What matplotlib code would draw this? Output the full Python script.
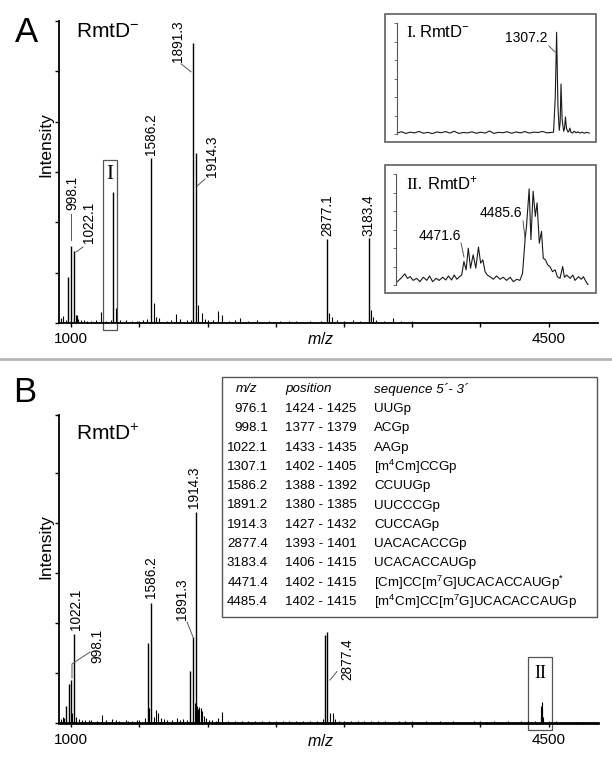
import matplotlib
matplotlib.use('Agg')
import matplotlib.pyplot as plt
from matplotlib.patches import Rectangle
from matplotlib.lines import Line2D

plt.rcParams['font.family'] = ['Liberation Sans', 'DejaVu Sans']
plt.rcParams['mathtext.fontset'] = 'custom'
plt.rcParams['mathtext.rm'] = 'Liberation Sans'
plt.rcParams['mathtext.it'] = 'Liberation Sans:italic'
plt.rcParams['mathtext.bf'] = 'Liberation Sans:bold'

# ---------------- data ----------------
# Panel A (RmtD-) stick spectrum, intensity in axis-tick units
a_major_mz = [976.1, 998.1, 1022.1, 1307.2, 1586.2, 1891.3, 1914.3, 2877.1, 3183.4]
a_major_int = [0.91, 1.53, 1.43, 2.60, 3.28, 5.57, 3.38, 1.67, 1.69]
a_minor_mz = [925, 944, 963, 1037, 1042, 1053, 1070, 1095, 1120, 1150, 1185, 1220, 1260,
              1290, 1330, 1360, 1403, 1450, 1480, 1500, 1530, 1555, 1608, 1620, 1647,
              1700, 1730, 1769, 1799, 1850, 1880, 1933, 1957, 1980, 2000, 2040, 2079,
              2104, 2160, 2200, 2238, 2300, 2360, 2450, 2531, 2600, 2650, 2750, 2830,
              2892, 2910, 2946, 3000, 3064, 3120, 3198, 3212, 3234, 3290, 3361, 3420,
              3500, 3600, 3700, 3800, 3900, 4000, 4100, 4200, 4300, 4400, 4500, 4600,
              4700, 4800]
a_minor_int = [0.10, 0.13, 0.06, 0.15, 0.16, 0.08, 0.05, 0.05, 0.04, 0.04, 0.05, 0.22, 0.04,
               0.06, 0.30, 0.05, 0.05, 0.04, 0.03, 0.04, 0.05, 0.08, 0.40, 0.12, 0.10,
               0.04, 0.05, 0.17, 0.07, 0.05, 0.06, 0.35, 0.20, 0.08, 0.06, 0.05, 0.24,
               0.15, 0.04, 0.05, 0.10, 0.03, 0.05, 0.03, 0.04, 0.03, 0.03, 0.03, 0.04,
               0.20, 0.12, 0.06, 0.03, 0.05, 0.03, 0.25, 0.12, 0.05, 0.03, 0.10, 0.03,
               0.03, 0.02, 0.02, 0.02, 0.02, 0.02, 0.02, 0.02, 0.02, 0.02, 0.02, 0.02,
               0.02, 0.02]

# Panel B (RmtD+) stick spectrum
b_major_mz = [966, 985, 998.1, 1022.1, 1566, 1586.2, 1872, 1891.3, 1914.3, 2860, 2877.4]
b_major_int = [0.34, 0.79, 0.86, 1.78, 1.60, 2.40, 1.04, 1.72, 4.22, 1.76, 1.83]
b_minor_mz = [925, 940, 950, 1010, 1040, 1060, 1080, 1100, 1130, 1150, 1190, 1225, 1260,
              1300, 1330, 1350, 1400, 1420, 1450, 1480, 1500, 1540, 1575, 1605, 1623,
              1640, 1660, 1680, 1700, 1740, 1774, 1800, 1820, 1850, 1905, 1922, 1930,
              1940, 1950, 1960, 1975, 1990, 2010, 2030, 2060, 2080, 2104, 2150, 2200,
              2250, 2300, 2350, 2400, 2450, 2500, 2550, 2600, 2650, 2700, 2750, 2800,
              2845, 2897, 2917, 2935, 2960, 3000, 3050, 3100, 3150, 3200, 3250, 3300,
              3350, 3400, 3450, 3500, 3550, 3600, 3650, 3700, 3750, 3800, 3850, 3900,
              3950, 4000, 4050, 4100, 4150, 4200, 4250, 4300, 4350, 4400, 4440, 4446,
              4450, 4454, 4460, 4500, 4550, 4600, 4650, 4700, 4750, 4800]
b_minor_int = [0.08, 0.12, 0.10, 0.20, 0.12, 0.08, 0.07, 0.06, 0.06, 0.07, 0.05, 0.16, 0.06,
               0.08, 0.06, 0.05, 0.06, 0.05, 0.05, 0.06, 0.06, 0.10, 0.30, 0.12, 0.26,
               0.20, 0.10, 0.08, 0.06, 0.06, 0.11, 0.07, 0.08, 0.06, 0.40, 0.34, 0.28,
               0.32, 0.30, 0.25, 0.15, 0.10, 0.07, 0.06, 0.05, 0.10, 0.22, 0.05, 0.05,
               0.04, 0.04, 0.05, 0.05, 0.04, 0.04, 0.05, 0.04, 0.04, 0.04, 0.05, 0.05,
               0.08, 0.20, 0.20, 0.08, 0.05, 0.05, 0.04, 0.04, 0.04, 0.05, 0.04, 0.04,
               0.03, 0.04, 0.04, 0.04, 0.03, 0.04, 0.03, 0.04, 0.03, 0.04, 0.03, 0.03,
               0.04, 0.04, 0.03, 0.04, 0.03, 0.04, 0.03, 0.04, 0.04, 0.05, 0.15, 0.35,
               0.42, 0.30, 0.12, 0.05, 0.04, 0.03, 0.03, 0.03, 0.03, 0.03]

x_ticks = [1000, 1500, 2000, 2500, 3000, 3500, 4000, 4500]
x_ticklabels = ['1000', '', '', '', '', '', '', '4500']

# Inset I (RmtD-, region around 1307) profile
i1_mz = [1271.0, 1272.0, 1273.0, 1274.0, 1275.0, 1276.0, 1277.0, 1278.0, 1279.0, 1280.0,
         1281.0, 1282.0, 1283.0, 1284.0, 1285.0, 1286.0, 1287.0, 1288.0, 1289.0, 1290.0,
         1291.0, 1292.0, 1293.0, 1294.0, 1295.0, 1296.0, 1297.0, 1298.0, 1299.0, 1300.0,
         1301.0, 1302.0, 1303.0, 1304.0, 1305.0, 1305.8, 1306.5, 1306.9, 1307.2, 1307.5,
         1307.8, 1308.0, 1308.2, 1308.45, 1308.8, 1309.0, 1309.2, 1309.45, 1309.8, 1310.0,
         1310.2, 1310.45, 1310.8, 1311.2, 1311.6, 1312.0, 1312.5, 1313.0, 1313.5, 1314.0,
         1314.6]
i1_int = [0.05, 0.12, 0.03, 0.10, 0.06, 0.14, 0.04, 0.09, 0.02, 0.11,
          0.07, 0.13, 0.05, 0.15, 0.03, 0.08, 0.06, 0.12, 0.04, 0.10,
          0.05, 0.16, 0.03, 0.09, 0.07, 0.12, 0.04, 0.11, 0.06, 0.13,
          0.05, 0.10, 0.08, 0.14, 0.06, 0.08, 0.10, 2.00, 5.50, 1.50,
          0.20, 0.60, 2.70, 0.80, 0.15, 0.30, 0.92, 0.30, 0.10, 0.15,
          0.32, 0.10, 0.05, 0.15, 0.06, 0.12, 0.05, 0.10, 0.04, 0.09,
          0.05]

# Inset II (RmtD+, region around 4471/4485) profile
i2_mz = [4456.7, 4457.5, 4458.4, 4459.0, 4459.6, 4460.3, 4461.1, 4461.8, 4462.6, 4463.4,
         4464.0, 4464.7, 4465.5, 4466.2, 4467.0, 4467.7, 4468.3, 4469.0, 4469.6, 4470.2,
         4470.8, 4471.3, 4471.8, 4472.3, 4472.8, 4473.3, 4473.9, 4474.5, 4475.1, 4475.6,
         4476.1, 4476.6, 4477.1, 4477.7, 4478.5, 4479.2, 4480.0, 4480.7, 4481.5, 4482.3,
         4483.0, 4483.8, 4484.5, 4485.1, 4485.7, 4486.0, 4486.6, 4487.0, 4487.5, 4488.0,
         4488.4, 4488.9, 4489.4, 4489.8, 4490.3, 4490.8, 4491.3, 4491.9, 4492.5, 4493.0,
         4493.6, 4494.2, 4494.6, 4495.1, 4495.9, 4496.5, 4497.0, 4497.8, 4498.4, 4498.9,
         4499.5, 4500.0]
i2_int = [0.18, 0.36, 0.60, 0.36, 0.45, 0.25, 0.36, 0.18, 0.42, 0.25,
          0.49, 0.18, 0.36, 0.25, 0.42, 0.27, 0.49, 0.27, 0.54, 0.31,
          0.45, 0.54, 1.27, 0.82, 1.99, 0.91, 1.63, 0.91, 2.05, 1.18,
          1.36, 0.72, 0.54, 0.45, 0.31, 0.49, 0.31, 0.42, 0.25, 0.42,
          0.18, 0.31, 0.25, 0.63, 2.54, 3.17, 5.20, 2.45, 5.07, 3.71,
          4.44, 2.26, 2.90, 1.45, 1.36, 1.09, 1.00, 0.72, 0.82, 0.45,
          0.36, 1.00, 0.42, 0.54, 0.36, 0.54, 0.25, 0.45, 0.31, 0.45,
          0.18, 0.00]

# Table
tbl_mz = ['976.1', '998.1', '1022.1', '1307.1', '1586.2', '1891.2', '1914.3',
          '2877.4', '3183.4', '4471.4', '4485.4']
tbl_pos = ['1424 - 1425', '1377 - 1379', '1433 - 1435', '1402 - 1405', '1388 - 1392',
           '1380 - 1385', '1427 - 1432', '1393 - 1401', '1406 - 1415', '1402 - 1415',
           '1402 - 1415']
tbl_seq = ['UUGp', 'ACGp', 'AAGp', '[m$^4$Cm]CCGp', 'CCUUGp', 'UUCCCGp', 'CUCCAGp',
           'UACACACCGp', 'UCACACCAUGp', '[Cm]CC[m$^7$G]UCACACCAUGp$^{*}$',
           '[m$^4$Cm]CC[m$^7$G]UCACACCAUGp']

# ---------------- layout helpers ----------------
W, H = 612, 760
fig = plt.figure(figsize=(W / 100, H / 100), dpi=100)


def rect(x0, y0, x1, y1):
    return [x0 / W, 1 - y1 / H, (x1 - x0) / W, (y1 - y0) / H]


def fx(x):
    return x / W


def fy(y):
    return 1 - y / H


def style_main(ax, pad):
    for s in ['top', 'right']:
        ax.spines[s].set_visible(False)
    for s in ['left', 'bottom']:
        ax.spines[s].set_linewidth(1.3)
    ax.tick_params(axis='both', direction='out', length=3.2, width=1.0, colors='black')
    ax.tick_params(axis='y', labelleft=False)
    ax.tick_params(axis='x', labelsize=11, pad=pad)
    ax.set_xticks(x_ticks)
    ax.set_xticklabels(x_ticklabels)
    ax.patch.set_alpha(0)


def peak_label(ax, text, xmz, ybot, leader=None, fs=9.8):
    ax.text(xmz, ybot, text, rotation=90, ha='center', va='bottom', fontsize=fs,
            clip_on=False)
    if leader is not None:
        xs, ys = zip(*leader)
        ax.plot(xs, ys, color='#555555', lw=0.7, clip_on=False)


# ---------------- Panel A ----------------
axA = fig.add_axes(rect(59, 21, 598, 323))
axA.set_xlim(912, 4861)
axA.set_ylim(0, 6)
axA.set_yticks([0, 1, 2, 3, 4, 5, 6])
style_main(axA, 3)
axA.vlines(a_minor_mz, 0, a_minor_int, color='black', lw=0.8)
axA.vlines(a_major_mz, 0, a_major_int, color='black', lw=1.0)

peak_label(axA, '998.1', 1007, 2.25, [(1000, 2.17), (1000, 1.65)])
peak_label(axA, '1022.1', 1132, 1.59, [(1088, 1.51), (1037, 1.41)])
peak_label(axA, '1586.2', 1586, 3.34)
peak_label(axA, '1891.3', 1784, 5.19, [(1806, 5.15), (1879, 4.99)])
peak_label(axA, '1914.3', 2033, 2.90, [(1982, 2.86), (1923, 2.72)])
peak_label(axA, '2877.1', 2875, 1.73)
peak_label(axA, '3183.4', 3176, 1.73)

# box I around 1307 region
axA.add_patch(Rectangle((1234, -0.14), 103, 3.38, fill=False, ec='#555555', lw=0.9,
                        clip_on=False))
axA.text(1285, 2.95, 'I', family='Liberation Serif', fontsize=15, ha='center',
         va='center')

fig.text(fx(15), fy(42), 'A', fontsize=25, ha='left', va='baseline')
fig.text(fx(76), fy(37), 'RmtD$^{-}$', fontsize=15, ha='left', va='baseline')
fig.text(fx(46), fy(145), 'Intensity', rotation=90, fontsize=12.5, ha='center',
         va='center')
fig.text(fx(321), fy(331), '$m/z$', fontsize=11.5, ha='center', va='top')

# ---------------- Inset I ----------------
fig.add_artist(Rectangle((fx(385), fy(142)), (596 - 385) / W, (142 - 14) / H,
                         transform=fig.transFigure, fill=False, ec='#606060', lw=1.2))
ax1 = fig.add_axes(rect(397, 23, 591, 134))
ax1.plot(i1_mz, i1_int, color='#1a1a1a', lw=0.8)
ax1.set_xlim(1271, 1315)
ax1.set_ylim(0, 6)
for s in ['top', 'right', 'bottom']:
    ax1.spines[s].set_visible(False)
ax1.spines['left'].set_color('#555555')
ax1.spines['left'].set_linewidth(0.8)
ax1.set_yticks([0, 1, 2, 3, 4, 5, 6])
ax1.set_xticks([])
ax1.tick_params(axis='y', length=2, width=0.6, colors='#555555', labelleft=False)
ax1.patch.set_alpha(0)
fig.text(fx(406), fy(37), 'I.', family='Liberation Serif', fontsize=12.5, ha='left',
         va='baseline')
fig.text(fx(419), fy(37), 'RmtD$^{-}$', fontsize=12, ha='left', va='baseline')
fig.text(fx(548), fy(42), '1307.2', fontsize=10, ha='right', va='baseline')
fig.add_artist(Line2D([fx(549), fx(555)], [fy(46), fy(52)], color='#555555', lw=0.7))

# ---------------- Inset II ----------------
fig.add_artist(Rectangle((fx(385), fy(293)), (596 - 385) / W, (293 - 165) / H,
                         transform=fig.transFigure, fill=False, ec='#606060', lw=1.2))
ax2 = fig.add_axes(rect(396, 174, 590, 285))
ax2.plot(i2_mz, i2_int, color='#1a1a1a', lw=0.8)
ax2.set_xlim(4456.4, 4500.4)
ax2.set_ylim(0, 6)
for s in ['top', 'right', 'bottom']:
    ax2.spines[s].set_visible(False)
ax2.spines['left'].set_color('#555555')
ax2.spines['left'].set_linewidth(0.8)
ax2.set_yticks([0, 1, 2, 3, 4, 5, 6])
ax2.set_xticks([])
ax2.tick_params(axis='y', length=2, width=0.6, colors='#555555', labelleft=False)
ax2.patch.set_alpha(0)
fig.text(fx(406), fy(189), 'II.', family='Liberation Serif', fontsize=12.5, ha='left',
         va='baseline')
fig.text(fx(427), fy(189), 'RmtD$^{+}$', fontsize=12, ha='left', va='baseline')
fig.text(fx(461), fy(240), '4471.6', fontsize=10, ha='right', va='baseline')
fig.add_artist(Line2D([fx(461), fx(464)], [fy(243), fy(257)], color='#555555', lw=0.7))
fig.text(fx(522), fy(217), '4485.6', fontsize=10, ha='right', va='baseline')
fig.add_artist(Line2D([fx(523), fx(525)], [fy(221), fy(238)], color='#555555', lw=0.7))

# separator
fig.add_artist(Line2D([0, 1], [fy(359), fy(359)], color='#b4b4b4', lw=2))

# ---------------- Panel B ----------------
axB = fig.add_axes(rect(59, 415, 598, 723))
axB.set_xlim(912, 4861)
axB.set_ylim(0, 6.16)
axB.set_yticks([0, 1, 2, 3, 4, 5, 6.16])
style_main(axB, 4)
axB.spines['bottom'].set_linewidth(2.0)
axB.vlines(b_minor_mz, 0, b_minor_int, color='black', lw=0.8)
axB.vlines(b_major_mz, 0, b_major_int, color='black', lw=1.0)

peak_label(axB, '1022.1', 1037, 1.86)
peak_label(axB, '998.1', 1190, 1.20, [(1139, 1.42), (1007, 1.18), (1007, 0.90)])
peak_label(axB, '1586.2', 1586, 2.50)
peak_label(axB, '1891.3', 1813, 2.06, [(1850, 2.02), (1894, 1.72)])
peak_label(axB, '1914.3', 1900, 4.30)
peak_label(axB, '2877.4', 3022, 0.86, [(2949, 1.03), (2897, 0.86)])

axB.add_patch(Rectangle((4348, -0.14), 176, 1.46, fill=False, ec='#555555', lw=0.9,
                        clip_on=False))
axB.text(4436, 1.0, 'II', family='Liberation Serif', fontsize=13, ha='center',
         va='center')

fig.text(fx(13), fy(402), 'B', fontsize=25, ha='left', va='baseline')
fig.text(fx(76), fy(440), 'RmtD$^{+}$', fontsize=15, ha='left', va='baseline')
fig.text(fx(46), fy(547), 'Intensity', rotation=90, fontsize=12.5, ha='center',
         va='center')
fig.text(fx(321), fy(733), '$m/z$', fontsize=11.5, ha='center', va='top')

# ---------------- Table ----------------
fig.add_artist(Rectangle((fx(222), fy(617)), (597 - 222) / W, (617 - 377) / H,
                         transform=fig.transFigure, fill=False, ec='#555555', lw=1.0))
fs_t = 9.6
hy = 389
fig.text(fx(236), fy(hy), 'm/z', fontsize=fs_t, style='italic', ha='left', va='center')
fig.text(fx(285), fy(hy), 'position', fontsize=fs_t, style='italic', ha='left',
         va='center')
fig.text(fx(374), fy(hy), 'sequence 5\u00b4- 3\u00b4', fontsize=fs_t, style='italic',
         ha='left', va='center')
for i, (m, p, s) in enumerate(zip(tbl_mz, tbl_pos, tbl_seq)):
    yy = 409 + i * 19.3
    fig.text(fx(268), fy(yy), m, fontsize=fs_t, ha='right', va='center')
    fig.text(fx(285), fy(yy), p, fontsize=fs_t, ha='left', va='center')
    fig.text(fx(374), fy(yy), s, fontsize=fs_t, ha='left', va='center')

fig.savefig('out.png', dpi=100)
